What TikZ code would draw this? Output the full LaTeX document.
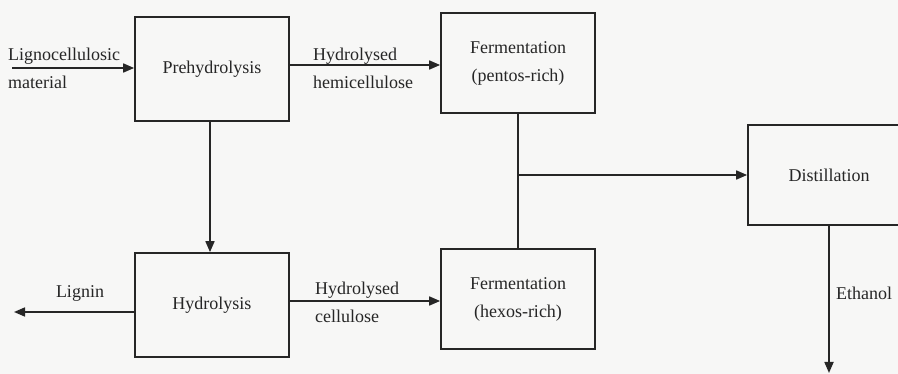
\documentclass[tikz,border=0pt]{standalone}
\usepackage{fontspec}
\setmainfont{Liberation Serif}
\usetikzlibrary{arrows.meta}
\definecolor{ink}{HTML}{262626}
\definecolor{paper}{HTML}{F7F7F6}
\begin{document}
\begin{tikzpicture}[x=1pt,y=-1pt,
  every node/.style={font=\fontsize{18}{28}\selectfont, text=ink},
  unit/.style={draw=ink, line width=1.7pt, rectangle, align=center, inner sep=0pt},
  flow/.style={draw=ink, line width=1.7pt, -{Triangle[length=11pt,width=9pt]}},
  link/.style={draw=ink, line width=1.7pt},
  lbl/.style={align=left, inner sep=0pt}]
  % page
  \fill[paper] (0,0) rectangle (898,374);
  \useasboundingbox (0,0) rectangle (898,374);
  \clip (0,0) rectangle (898,374);

  % process units
  \node[unit, minimum width=154pt, minimum height=104pt] (pre) at (212,69) {Prehydrolysis};
  \node[unit, minimum width=154pt, minimum height=104pt] (hyd) at (212,305) {Hydrolysis};
  \node[unit, minimum width=154pt, minimum height=100pt] (fp) at (518,63) {Fermentation\\(pentos-rich)};
  \node[unit, minimum width=154pt, minimum height=100pt] (fh) at (518,299) {Fermentation\\(hexos-rich)};
  \node[unit, minimum width=162pt, minimum height=100pt] (dist) at (829,175) {Distillation};

  % free ends
  \coordinate (feed) at (12,68);
  \coordinate (lig) at (14,312);
  \coordinate (eth) at (dist.south |- 0,373);
  \coordinate (mix) at (fp.south |- dist.west);

  % streams
  \draw[flow] (feed) -- (feed -| pre.west);
  \draw[flow] (pre.east |- 0,65) -- (fp.west |- 0,65);
  \draw[flow] (pre.south -| 210,0) -- (hyd.north -| 210,0);
  \draw[flow] (hyd.west |- lig) -- (lig);
  \draw[flow] (hyd.east |- 0,301) -- (fh.west |- 0,301);
  \draw[link] (fp.south) -- (fh.north);
  \draw[flow] (mix) -- (dist.west);
  \draw[flow] (dist.south) -- (eth);

  % stream labels
  \node[lbl, anchor=west] (lfeed) at (8,68.5) {Lignocellulosic\\material};
  \node[lbl, anchor=west] (lhemi) at (313,68.5) {Hydrolysed\\hemicellulose};
  \node[lbl, anchor=west] (lcell) at (315,302) {Hydrolysed\\cellulose};
  \node[lbl] (llig) at (80,293) {Lignin};
  \node[lbl, anchor=west] (leth) at (836,293) {Ethanol};
\end{tikzpicture}
\end{document}
